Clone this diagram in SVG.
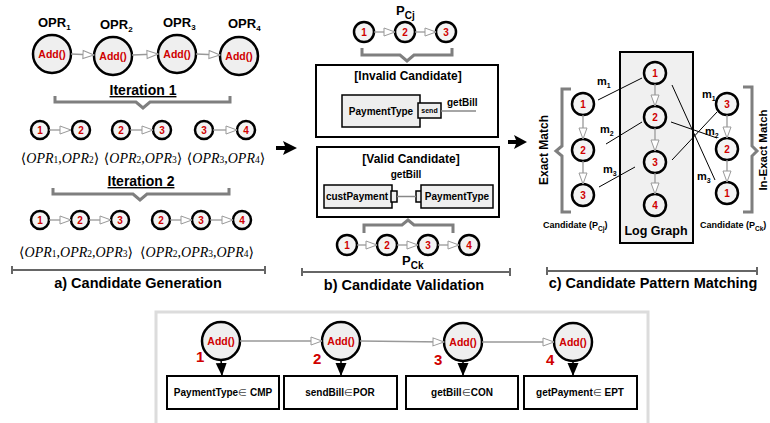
<svg xmlns="http://www.w3.org/2000/svg" width="770" height="423" viewBox="0 0 770 423">
<defs>
<style>
text{font-family:"Liberation Sans",Arial,sans-serif;font-weight:bold;fill:#000}
.cb{fill:#efefef;stroke:#000;stroke-width:2.5}
.cs{fill:#f3f3f3;stroke:#000;stroke-width:2.5}
.red{fill:#d00000}
.add{font-size:10.5px;text-anchor:middle}
.num{font-size:10px;text-anchor:middle}
.ga{stroke:#999;stroke-width:1.3;fill:none;marker-end:url(#hol)}
.br{stroke:#7f7f7f;stroke-width:3;fill:none}
.bar{stroke:#666;stroke-width:2;fill:none}
.box{fill:#fff;stroke:#000;stroke-width:2}
.gbox{fill:#eeeeee;stroke:#000;stroke-width:1.5}
.ml{stroke:#000;stroke-width:1;fill:none}
.math{font-family:"Liberation Serif","DejaVu Serif",serif;font-weight:normal;font-size:14px;text-anchor:middle}
.it{font-style:italic}
.cap{font-size:14.5px;text-anchor:middle}
.mid{text-anchor:middle}
</style>
<marker id="hol" markerUnits="userSpaceOnUse" markerWidth="14" markerHeight="12" refX="12" refY="5" orient="auto">
<path d="M1,1 L12,5 L1,9 z" fill="#fff" stroke="#999" stroke-width="1"/>
</marker>
<marker id="sol" markerUnits="userSpaceOnUse" markerWidth="14" markerHeight="12" refX="13" refY="5.5" orient="auto">
<path d="M0,0 L13,5.5 L0,11 z" fill="#000"/>
</marker>
</defs>
<rect width="770" height="423" fill="#fff"/>

<!-- section a -->
<g id="a-opr1"><text x="38" y="27" font-size="13">OPR<tspan font-size="8" dy="3">1</tspan></text><circle class="cb" cx="52" cy="54" r="19"/><text class="add red" x="52" y="58">Add()</text></g>
<g id="a-opr2"><text x="100" y="29" font-size="13">OPR<tspan font-size="8" dy="3">2</tspan></text><circle class="cb" cx="113" cy="56" r="19"/><text class="add red" x="113" y="60">Add()</text></g>
<g id="a-opr3"><text x="163" y="27" font-size="13">OPR<tspan font-size="8" dy="3">3</tspan></text><circle class="cb" cx="177" cy="54" r="19"/><text class="add red" x="177" y="58">Add()</text></g>
<g id="a-opr4"><text x="228" y="28" font-size="13">OPR<tspan font-size="8" dy="3">4</tspan></text><circle class="cb" cx="239" cy="56" r="19"/><text class="add red" x="239" y="60">Add()</text></g>

<g id="a-iter1">
<text class="mid" x="143" y="95" font-size="14" text-decoration="underline">Iteration 1</text>
<path class="br" d="M55,96 L55,102 L136,102 L143,108 L150,102 L230,102 L230,96"/>
</g>
<g id="a-row1">
<circle class="cs" cx="40" cy="130" r="9"/><text class="num red" x="40" y="134">1</text>
<circle class="cs" cx="81" cy="130" r="9"/><text class="num red" x="81" y="134">2</text>
<circle class="cs" cx="121" cy="130" r="9"/><text class="num red" x="121" y="134">2</text>
<circle class="cs" cx="162" cy="130" r="9"/><text class="num red" x="162" y="134">3</text>
<circle class="cs" cx="204" cy="130" r="9"/><text class="num red" x="204" y="134">3</text>
<circle class="cs" cx="246" cy="130" r="9"/><text class="num red" x="246" y="134">4</text>
<text class="math" x="60" y="163">⟨<tspan class="it">OPR</tspan><tspan font-size="9.5">1</tspan>,<tspan class="it">OPR</tspan><tspan font-size="9.5">2</tspan>⟩</text>
<text class="math" x="143" y="163">⟨<tspan class="it">OPR</tspan><tspan font-size="9.5">2</tspan>,<tspan class="it">OPR</tspan><tspan font-size="9.5">3</tspan>⟩</text>
<text class="math" x="226" y="163">⟨<tspan class="it">OPR</tspan><tspan font-size="9.5">3</tspan>,<tspan class="it">OPR</tspan><tspan font-size="9.5">4</tspan>⟩</text>
</g>
<g id="a-iter2">
<text class="mid" x="141" y="186" font-size="14" text-decoration="underline">Iteration 2</text>
<path class="br" d="M53,188 L53,194 L133,194 L140,200 L147,194 L229,194 L229,188"/>
</g>
<g id="a-row2">
<circle class="cs" cx="40" cy="220" r="9"/><text class="num red" x="40" y="224">1</text>
<circle class="cs" cx="80" cy="220" r="9"/><text class="num red" x="80" y="224">2</text>
<circle class="cs" cx="120" cy="220" r="9"/><text class="num red" x="120" y="224">3</text>
<circle class="cs" cx="161" cy="220" r="9"/><text class="num red" x="161" y="224">2</text>
<circle class="cs" cx="201" cy="220" r="9"/><text class="num red" x="201" y="224">3</text>
<circle class="cs" cx="242" cy="220" r="9"/><text class="num red" x="242" y="224">4</text>
<text class="math" x="76" y="257">⟨<tspan class="it">OPR</tspan><tspan font-size="9.5">1</tspan>,<tspan class="it">OPR</tspan><tspan font-size="9.5">2</tspan>,<tspan class="it">OPR</tspan><tspan font-size="9.5">3</tspan>⟩</text>
<text class="math" x="197" y="257">⟨<tspan class="it">OPR</tspan><tspan font-size="9.5">2</tspan>,<tspan class="it">OPR</tspan><tspan font-size="9.5">3</tspan>,<tspan class="it">OPR</tspan><tspan font-size="9.5">4</tspan>⟩</text>
</g>
<g id="a-caption">
<path class="bar" d="M12,266 L12,274 M12,270 L265,270 M265,266 L265,274"/>
<text class="cap" x="138" y="288">a) Candidate Generation</text>
</g>

<!-- section b -->
<g id="b-pcj">
<text x="396" y="15" font-size="13">P<tspan font-size="10" dy="4">Cj</tspan></text>
<circle class="cs" cx="364" cy="32" r="10"/><text class="num red" x="364" y="36">1</text>
<circle class="cs" cx="405" cy="32" r="10"/><text class="num red" x="405" y="36">2</text>
<circle class="cs" cx="446" cy="32" r="10"/><text class="num red" x="446" y="36">3</text>
<path class="br" d="M362,48 L362,55 L400,55 L407,61 L414,55 L452,55 L452,48"/>
</g>
<g id="b-invalid">
<rect class="box" x="316" y="65" width="182" height="72"/>
<text class="mid" x="408" y="80" font-size="12">[Invalid Candidate]</text>
<rect class="gbox" x="342" y="95" width="78" height="32"/>
<text class="mid" x="381" y="115" font-size="10">PaymentType</text>
<rect class="gbox" x="418" y="103" width="23" height="15"/>
<text class="mid" x="429.5" y="113" font-size="7">send</text>
<text x="447" y="106" font-size="10">getBill</text>
</g>
<g id="b-valid">
<rect class="box" x="317" y="147" width="182" height="70"/>
<text class="mid" x="411" y="163" font-size="12">[Valid Candidate]</text>
<text class="mid" x="406" y="178" font-size="10">getBill</text>
<rect class="gbox" x="324" y="185" width="68" height="23"/>
<text class="mid" x="357" y="200" font-size="10">custPayment</text>
<rect class="gbox" x="391" y="191" width="6" height="11"/>
<rect class="gbox" x="416" y="191" width="6" height="11"/>
<rect class="gbox" x="421" y="185" width="72" height="23"/>
<text class="mid" x="457" y="200" font-size="10">PaymentType</text>
</g>
<g id="b-pck">
<path class="br" d="M364,233 L364,225 L402,225 L408,220 L414,225 L453,225 L453,233"/>
<circle class="cs" cx="347" cy="245" r="10"/><text class="num red" x="347" y="249">1</text>
<circle class="cs" cx="387" cy="245" r="10"/><text class="num red" x="387" y="249">2</text>
<circle class="cs" cx="428" cy="245" r="10"/><text class="num red" x="428" y="249">3</text>
<circle class="cs" cx="469" cy="245" r="10"/><text class="num red" x="469" y="249">4</text>
<text x="402" y="265" font-size="13">P<tspan font-size="10" dy="4">Ck</tspan></text>
</g>
<g id="b-caption">
<path class="bar" d="M302,268 L302,276 M302,272 L510,272 M510,268 L510,276"/>
<text class="cap" x="404" y="290">b) Candidate Validation</text>
</g>

<!-- section c -->
<g id="c-log">
<rect x="620" y="52" width="73" height="191" fill="#f0f0f0" stroke="#000" stroke-width="2"/>
<circle class="cs" cx="655" cy="73" r="11"/><text class="num red" x="655" y="77" font-size="11">1</text>
<circle class="cs" cx="655" cy="117" r="11"/><text class="num red" x="655" y="121" font-size="11">2</text>
<circle class="cs" cx="655" cy="162" r="11"/><text class="num red" x="655" y="166" font-size="11">3</text>
<circle class="cs" cx="655" cy="205" r="11"/><text class="num red" x="655" y="209" font-size="11">4</text>
<text class="mid" x="656" y="235" font-size="12.5">Log Graph</text>
</g>
<g id="c-pcj">
<path class="br" d="M571,89 L562,89 L562,146 L556,151 L562,156 L562,212 L571,212"/>
<text class="mid" x="548" y="150" font-size="12" transform="rotate(-90 548 150)">Exact Match</text>
<circle class="cs" cx="583" cy="104" r="11"/><text class="num red" x="583" y="108" font-size="11">1</text>
<circle class="cs" cx="583" cy="150" r="11"/><text class="num red" x="583" y="154" font-size="11">2</text>
<circle class="cs" cx="583" cy="195" r="11"/><text class="num red" x="583" y="199" font-size="11">3</text>
<text x="543" y="228" font-size="9">Candidate (P<tspan font-size="6.5" dy="3">Cj</tspan><tspan dy="-3">)</tspan></text>
</g>
<g id="c-pck">
<path class="br" d="M743,87 L752,87 L752,146 L757,151 L752,156 L752,212 L743,212"/>
<text class="mid" x="767" y="150" font-size="11.5" transform="rotate(-90 767 150)">In-Exact Match</text>
<circle class="cs" cx="727" cy="104" r="11"/><text class="num red" x="727" y="108" font-size="11">3</text>
<circle class="cs" cx="727" cy="149" r="11"/><text class="num red" x="727" y="153" font-size="11">2</text>
<circle class="cs" cx="727" cy="193" r="11"/><text class="num red" x="727" y="197" font-size="11">1</text>
<text x="700" y="228" font-size="9">Candidate (P<tspan font-size="6.5" dy="3">Ck</tspan><tspan dy="-3">)</tspan></text>
</g>
<g id="c-labels" font-size="11">
<text x="597" y="85">m<tspan font-size="7" dy="3">1</tspan></text>
<text x="600" y="133">m<tspan font-size="7" dy="3">2</tspan></text>
<text x="603" y="173">m<tspan font-size="7" dy="3">3</tspan></text>
<text x="702" y="98">m<tspan font-size="7" dy="3">1</tspan></text>
<text x="705" y="135">m<tspan font-size="7" dy="3">2</tspan></text>
<text x="697" y="180">m<tspan font-size="7" dy="3">3</tspan></text>
</g>
<g id="c-caption">
<path class="bar" d="M547,267 L547,275 M547,271 L757,271 M757,267 L757,275"/>
<text class="cap" x="653" y="288">c) Candidate Pattern Matching</text>
</g>

<!-- bottom panel -->
<rect x="156" y="312" width="492" height="114" fill="none" stroke="#dcdcdc" stroke-width="3"/>
<g id="d-1">
<circle class="cb" cx="221" cy="341" r="19"/><text class="add red" x="221" y="345">Add()</text>
<text class="red" x="196" y="362" font-size="15">1</text>
<rect class="box" x="167" y="376" width="112" height="33"/>
<text class="mid" x="223" y="396" font-size="10">PaymentType<tspan font-weight="normal" fill="#444">∈</tspan> CMP</text>
</g>
<g id="d-2">
<circle class="cb" cx="341" cy="341" r="19"/><text class="add red" x="341" y="345">Add()</text>
<text class="red" x="313" y="364" font-size="15">2</text>
<rect class="box" x="284" y="376" width="113" height="33"/>
<text class="mid" x="340" y="396" font-size="10">sendBill<tspan font-weight="normal" fill="#444">∈</tspan>POR</text>
</g>
<g id="d-3">
<circle class="cb" cx="463" cy="342" r="19"/><text class="add red" x="463" y="346">Add()</text>
<text class="red" x="434" y="365" font-size="15">3</text>
<rect class="box" x="406" y="376" width="112" height="33"/>
<text class="mid" x="462" y="396" font-size="10">getBill<tspan font-weight="normal" fill="#444">∈</tspan>CON</text>
</g>
<g id="d-4">
<circle class="cb" cx="573" cy="342" r="19"/><text class="add red" x="573" y="346">Add()</text>
<text class="red" x="546" y="365" font-size="15">4</text>
<rect class="box" x="524" y="376" width="113" height="33"/>
<text class="mid" x="580" y="396" font-size="10">getPayment<tspan font-weight="normal" fill="#444">∈</tspan> EPT</text>
</g>

<!-- connectors -->
<g id="connectors">
<line class="ga" x1="71" y1="54" x2="94" y2="55"/>
<line class="ga" x1="132" y1="55" x2="158" y2="54"/>
<line class="ga" x1="196" y1="54" x2="220" y2="55"/>
<line class="ga" x1="49" y1="130" x2="71" y2="130"/>
<line class="ga" x1="130" y1="130" x2="153" y2="130"/>
<line class="ga" x1="213" y1="130" x2="237" y2="130"/>
<line class="ga" x1="49" y1="220" x2="71" y2="220"/>
<line class="ga" x1="89" y1="220" x2="111" y2="220"/>
<line class="ga" x1="170" y1="220" x2="192" y2="220"/>
<line class="ga" x1="210" y1="220" x2="233" y2="220"/>
<line class="ga" x1="374" y1="32" x2="395" y2="32"/>
<line class="ga" x1="415" y1="32" x2="436" y2="32"/>
<line class="ga" x1="357" y1="245" x2="377" y2="245"/>
<line class="ga" x1="397" y1="245" x2="418" y2="245"/>
<line class="ga" x1="438" y1="245" x2="459" y2="245"/>
<line x1="441" y1="111" x2="476" y2="111" stroke="#888" stroke-width="1.5"/>
<line x1="397" y1="196.5" x2="416" y2="196.5" stroke="#888" stroke-width="1.5"/>
<line class="ga" x1="655" y1="84" x2="655" y2="106"/>
<line class="ga" x1="655" y1="128" x2="655" y2="151"/>
<line class="ga" x1="655" y1="173" x2="655" y2="194"/>
<line class="ga" x1="583" y1="115" x2="583" y2="139"/>
<line class="ga" x1="583" y1="161" x2="583" y2="184"/>
<line class="ga" x1="727" y1="115" x2="727" y2="138"/>
<line class="ga" x1="727" y1="160" x2="727" y2="182"/>
<line class="ml" x1="598" y1="100" x2="642" y2="78"/>
<line class="ml" x1="606" y1="144" x2="642" y2="122"/>
<line class="ml" x1="599" y1="187" x2="635" y2="167"/>
<line class="ml" x1="672" y1="85" x2="715" y2="180"/>
<line class="ml" x1="671" y1="122" x2="717" y2="138"/>
<line class="ml" x1="672" y1="160" x2="717" y2="112"/>
<line class="ga" x1="240" y1="341" x2="322" y2="341"/>
<line class="ga" x1="360" y1="341" x2="444" y2="342"/>
<line class="ga" x1="482" y1="342" x2="554" y2="342"/>
<line x1="221" y1="359" x2="222" y2="376" stroke="#000" stroke-width="1.5" marker-end="url(#sol)"/>
<line x1="341" y1="359" x2="341" y2="376" stroke="#000" stroke-width="1.5" marker-end="url(#sol)"/>
<line x1="463" y1="360" x2="463" y2="376" stroke="#000" stroke-width="1.5" marker-end="url(#sol)"/>
<line x1="573" y1="360" x2="573" y2="376" stroke="#000" stroke-width="1.5" marker-end="url(#sol)"/>
<path d="M276,146 L285,146 L283,141 L297,148 L283,155 L285,150 L276,150 z" fill="#000"/>
<path d="M508,140 L516,140 L514,135 L527,142 L514,149 L516,144 L508,144 z" fill="#000"/>
</g>
</svg>
